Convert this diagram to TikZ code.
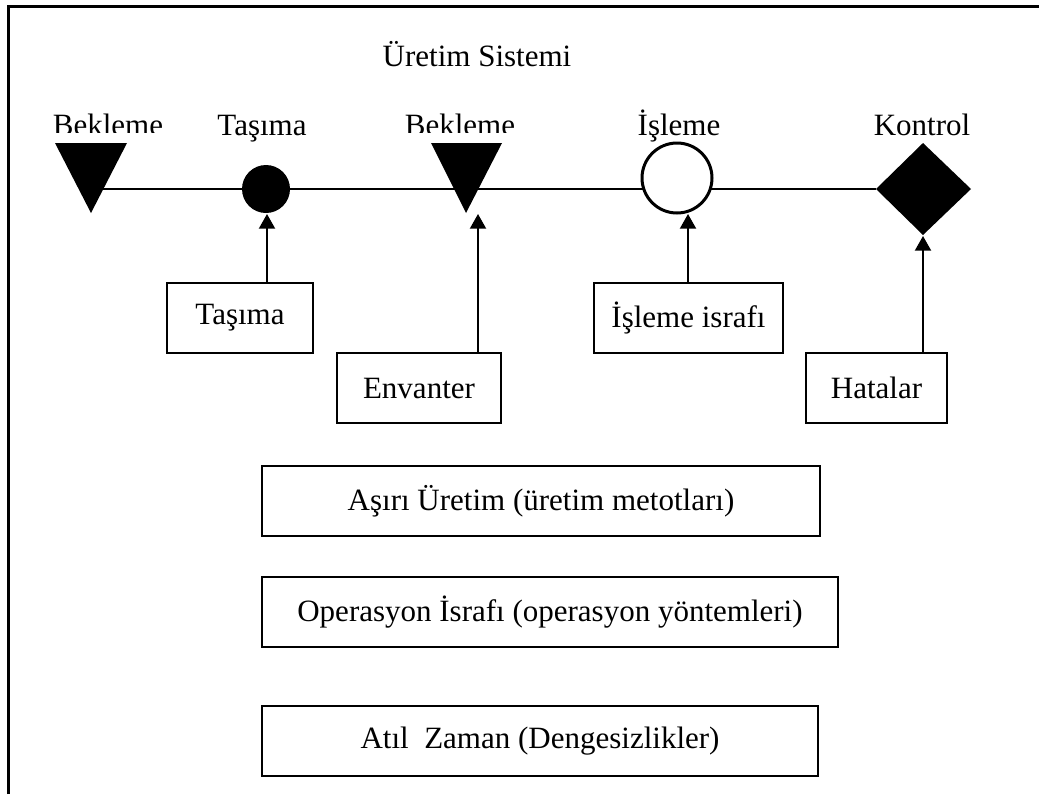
\documentclass[tikz,border=0pt]{standalone}
\usepackage{fontspec}
\setmainfont{Liberation Serif}
\usetikzlibrary{arrows.meta}
\begin{document}
\begin{tikzpicture}[x=0.75pt,y=-0.75pt,
  txt/.style={font=\fontsize{23.25}{28}\selectfont},
  lbl/.style={txt, inner sep=0pt, anchor=base},
  box/.style={draw, line width=1.5pt, txt, inner sep=0pt, minimum height=52.5pt},
  conn/.style={line width=1.5pt},
  arr/.style={line width=1.5pt, -{Triangle[width=12pt,length=11pt]}},
]
\useasboundingbox (0,0) rectangle (1039,794);
\fill[white] (0,0) rectangle (1039,794);

% open frame: left and top edges only
\coordinate (frameBL) at (8,794);
\coordinate (frameTL) at (8,6);
\coordinate (frameTR) at (1039,6);
\draw[line width=2.25pt] (frameBL) -- (frameTL) -- (frameTR);

% title
\node[lbl] (title) at (477,66) {Üretim Sistemi};

% process line positions
\coordinate (bek1) at (91,189);
\coordinate (bek2) at (466,189);
\coordinate (kontrolL) at (876,189);

% main flow line
\draw[conn] (bek1) -- (kontrolL);

% waiting: downward triangles
\fill (55,143) -- (127,143) -- (91,213) -- cycle;
\fill (431,143) -- (502,143) -- (466,213) -- cycle;

% transport: filled circle
\node[circle, fill=black, inner sep=0pt, minimum size=36pt] (tas) at (266,189) {};
% processing: open circle
\node[circle, draw, fill=white, line width=2.25pt, inner sep=0pt, minimum size=52.5pt] (isl) at (677,178) {};
% inspection: filled diamond
\fill (923,143) -- (971,189) -- (923,235) -- (876,189) -- cycle;
\coordinate (kontrolB) at (923,236);

% labels above the line (Bekleme cut at the top of the symbols)
\begin{scope}
  \clip (0,0) rectangle (1039,132);
  \node[lbl] (lbek1) at (108,135) {Bekleme};
  \node[lbl] (lbek2) at (460,135) {Bekleme};
\end{scope}
\node[lbl] (ltas) at (262,135) {Taşıma};
\node[lbl] (lisl) at (679,135) {İşleme};
\node[lbl] (lkon) at (922,135) {Kontrol};

% waste boxes
\node[box, minimum width=109.5pt] (btas) at (240,318) {Taşıma};
\node[box, minimum width=123pt] (benv) at (419,388) {Envanter};
\node[box, minimum width=141.75pt] (bisl) at (688.5,318) {İşleme israfı};
\node[box, minimum width=105.75pt] (bhat) at (876.5,388) {Hatalar};

% arrow targets
\coordinate (tasB) at (267,214);
\coordinate (bek2B) at (478,214);
\coordinate (islB) at (688,214);

\draw[arr] (btas.north -| tasB) -- (tasB);
\draw[arr] (benv.north -| bek2B) -- (bek2B);
\draw[arr] (bisl.north -| islB) -- (islB);
\draw[arr] (bhat.north -| kontrolB) -- (kontrolB);

% general wastes
\node[box, minimum width=418.5pt] (basiri) at (541,501) {Aşırı Üretim (üretim metotları)};
\node[box, minimum width=432pt] (bops) at (550,612) {Operasyon İsrafı (operasyon yöntemleri)};
\node[box, minimum width=417pt] (batil) at (540,741) {Atıl\ \ Zaman (Dengesizlikler)};
\end{tikzpicture}
\end{document}
